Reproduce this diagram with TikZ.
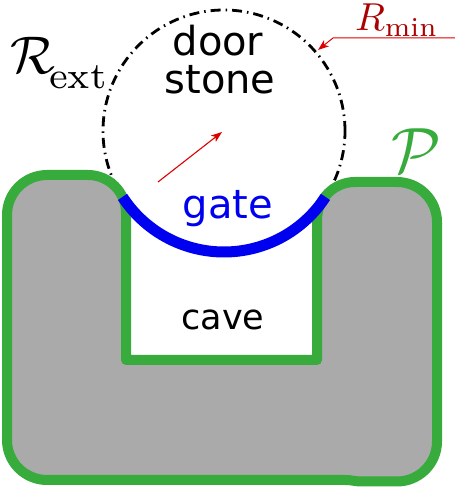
\documentclass[tikz,border=0pt]{standalone}
\usepackage{fontspec}
\usepackage{graphicx}
\newfontfamily\dejavu{DejaVu Sans}
\usetikzlibrary{arrows.meta}
\definecolor{shapegray}{HTML}{AAAAAA}
\definecolor{pgreen}{HTML}{37AB3C}
\definecolor{gateblue}{HTML}{0000F0}
\definecolor{arrred}{HTML}{DD0000}
\definecolor{labred}{HTML}{AA0000}
\begin{document}
\begin{tikzpicture}[x=1pt,y=1pt,
  sanslabel/.style={font=\dejavu\fontsize{40}{40}\selectfont, inner sep=0pt, anchor=base},
  mathlabel/.style={inner sep=0pt, anchor=base west},
  region/.style={fill=shapegray, draw=pgreen, line width=10pt, line join=round},
  stonecircle/.style={draw=black, line width=2.8pt, dash pattern=on 10pt off 5pt on 1.5pt off 5pt},
  gatearc/.style={draw=gateblue, line width=11pt},
  redarrow/.style={draw=arrred, line width=1.1pt, -{Stealth[length=11pt,width=8pt,inset=3pt]}}]
\useasboundingbox (0,0) rectangle (455,501);
% circle of the door stone
\coordinate (c) at (224,370);
\draw[stonecircle] (c) circle[radius=121];
% region P
\path[region] (126,141) -- (126,288) arc[start angle=0,end angle=90,radius=38]
  -- (47,326) arc[start angle=90,end angle=180,radius=40]
  -- (7,61) arc[start angle=180,end angle=270,radius=40]
  -- (345,21) to[out=0,in=180] (362,19.5)
  -- (397,19.5) arc[start angle=270,end angle=360,radius=40]
  -- (437,279) arc[start angle=0,end angle=90,radius=40]
  -- (355,319) arc[start angle=90,end angle=180,radius=38]
  -- (317,141) -- cycle;
% gate
\draw[gatearc] ([shift={(213:121)}]c) arc[start angle=213,end angle=327,radius=121];
% texts
\node[sanslabel] (door) at (218,445) {door};
\node[sanslabel] (stone) at (220,407) {stone};
\node[sanslabel, text=gateblue] (gate) at (228,282) {gate};
\node[sanslabel, font=\dejavu\fontsize{35}{35}\selectfont] (cave) at (223,171) {cave};
\node[mathlabel] (rext) at (10,427) {\scalebox{5.3}{$\mathcal{R}$}\kern-6pt\raisebox{-15pt}{\scalebox{5.3}{$\scriptstyle\mathrm{ext}$}}};
\node[mathlabel, text=labred] (rmin) at (355,470) {\scalebox{3.9}{$R_{\min}$}};
\node[mathlabel, text=pgreen] (plab) at (391,328) {\scalebox{6.4}{$\mathcal{P}$}};
% arrows
\coordinate (rtail) at (158,319);
\coordinate (rhead) at (222,369);
\draw[redarrow] (rtail) -- (rhead);
\coordinate (mstart) at (455,463);
\coordinate (mbend) at (333,463);
\coordinate (mtip) at (318,451);
\draw[redarrow, line width=1pt] (mstart) -- (mbend) -- (mtip);
\end{tikzpicture}
\end{document}
